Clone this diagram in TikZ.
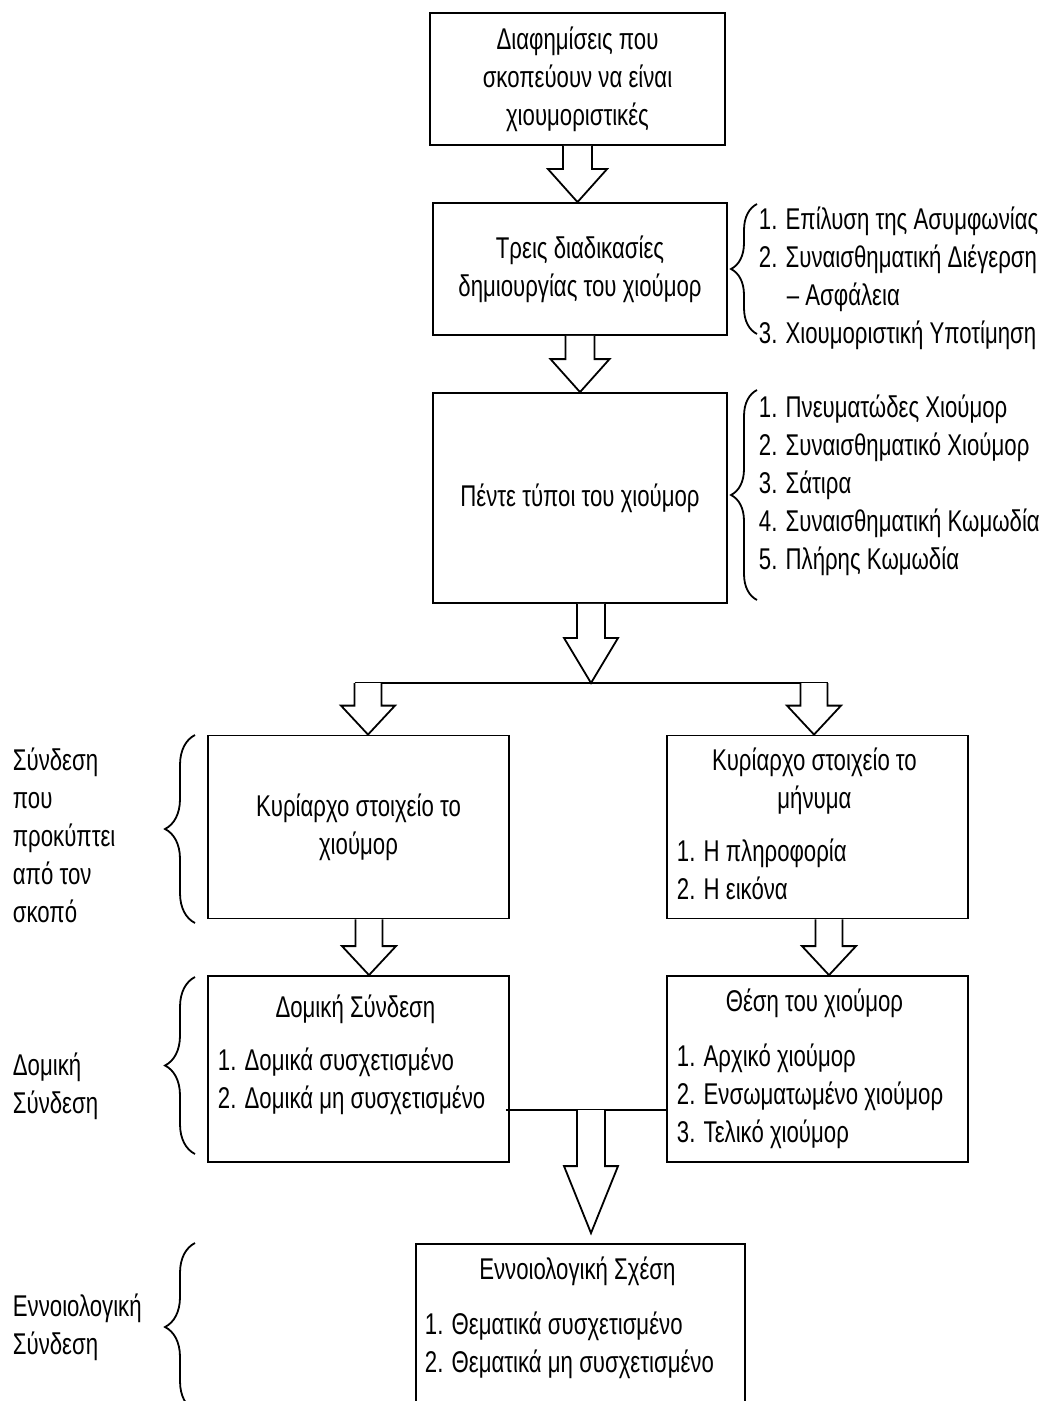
\documentclass[tikz,border=0pt]{standalone}
\usepackage{fontspec}
\setmainfont{Liberation Sans}[FakeStretch=0.74]
\usetikzlibrary{calc,positioning,decorations.pathreplacing}

% hollow block arrow: start, tip, half shaft, half head, head length
\newcommand{\blockarrow}[5]{%
  \draw [fatarrow] let \p1=(#1), \p2=(#2) in
    (\x1-#3,\y1) -- (\x1-#3,\y2+#5) -- (\x1-#4,\y2+#5) -- (\x1,\y2)
    -- (\x1+#4,\y2+#5) -- (\x1+#3,\y2+#5) -- (\x1+#3,\y1);}
\newcommand{\boxtitle}[1]{\multicolumn{1}{@{}c@{}}{#1}}

\begin{document}
\begin{tikzpicture}[
    x=0.5pt, y=-0.5pt,
    font=\fontsize{15}{19}\selectfont,
    line width=0.9pt,
    block/.style={
        rectangle,
        draw=black,
        fill=white,
        inner sep=0pt,
        align=center
    },
    items/.style={
        inner sep=0pt,
        anchor=west,
        align=left
    },
    fatarrow/.style={
        draw=black,
        fill=white,
        line join=miter
    },
    curly/.style={
        decorate,
        decoration={brace, amplitude=#1}
    }
  ]
  \useasboundingbox (0,0) rectangle (1052,1401);

    % We start by placing the blocks
  \node [block, minimum width=147.5pt, minimum height=66pt] (ads) at (577.5,79)
    {Διαφημίσεις που\\σκοπεύουν να είναι\\χιουμοριστικές};

  \node [block, minimum width=147pt, minimum height=66pt] (process) at (580,269)
    {Τρεις διαδικασίες\\δημιουργίας του χιούμορ};

  \node [block, minimum width=147pt, minimum height=105pt] (types) at (580,498)
    {Πέντε τύποι του χιούμορ};

  \node [block, minimum width=150.5pt, minimum height=91.5pt] (humour) at (358.5,827)
    {Κυρίαρχο στοιχείο το\\χιούμορ};

  \node [block, minimum width=150.5pt, minimum height=91.5pt] (message) at (817.5,827)
 {%
 \begin{tabular}{@{}p{137.5pt}@{}}
  \boxtitle{Κυρίαρχο στοιχείο το}\\
  \boxtitle{μήνυμα}\\[7.5pt]
  1. Η πληροφορία\\
  2. Η εικόνα
 \end{tabular}
 };

  \node [block, minimum width=150.5pt, minimum height=93pt] (structural) at (358.5,1069)
 {%
 \begin{tabular}{@{}p{137.5pt}@{}}
  \boxtitle{Δομική Σύνδεση}\\[7.5pt]
  1. Δομικά συσχετισμένο\\
  2. Δομικά μη συσχετισμένο\\[14pt]
 \end{tabular}
 };

  \node [block, minimum width=150.5pt, minimum height=93pt] (position) at (817.5,1069)
 {%
 \begin{tabular}{@{}p{137.5pt}@{}}
  \boxtitle{Θέση του χιούμορ}\\[8.5pt]
  1. Αρχικό χιούμορ\\
  2. Ενσωματωμένο χιούμορ\\
  3. Τελικό χιούμορ
 \end{tabular}
 };

  \node [block, minimum width=164.5pt, minimum height=90pt] (concept) at (580.5,1334)
 {%
 \begin{tabular}{@{}p{152.5pt}@{}}
  \boxtitle{Εννοιολογική Σχέση}\\[8.5pt]
  1. Θεματικά συσχετισμένο\\
  2. Θεματικά μη συσχετισμένο\\[16pt]
 \end{tabular}
 };

    % the lists beside the braces
  \node [items] (processlist) at (758,279)
 {%
 \begin{tabular}{@{}l@{}}
  1. Επίλυση της Ασυμφωνίας\\
  2. Συναισθηματική Διέγερση\\
  \hspace*{14pt}– Ασφάλεια\\
  3. Χιουμοριστική Υποτίμηση
 \end{tabular}
 };

  \node [items] (typelist) at (758,486)
 {%
 \begin{tabular}{@{}l@{}}
  1. Πνευματώδες Χιούμορ\\
  2. Συναισθηματικό Χιούμορ\\
  3. Σάτιρα\\
  4. Συναισθηματική Κωμωδία\\
  5. Πλήρης Κωμωδία
 \end{tabular}
 };

    % labels on the left
  \node [items] (purposelabel) at (12,839)
 {%
 \begin{tabular}{@{}l@{}}
  Σύνδεση\\ που\\ προκύπτει\\ από τον\\ σκοπό
 \end{tabular}
 };

  \node [items] (structlabel) at (12,1087)
 {%
 \begin{tabular}{@{}l@{}}
  Δομική\\ Σύνδεση
 \end{tabular}
 };

  \node [items] (conceptlabel) at (12,1328)
 {%
 \begin{tabular}{@{}l@{}}
  Εννοιολογική\\ Σύνδεση
 \end{tabular}
 };

    % braces
  \draw [curly=13pt] (757,334) -- (757,204);
  \draw [curly=13pt] (757,600) -- (757,390);
  \draw [curly=15pt] (195,923) -- (195,735);
  \draw [curly=15pt] (195,1154) -- (195,977);
  \draw [curly=15pt] (195,1411) -- (195,1243);

    % branching points
  \coordinate (split) at (591,683);
  \coordinate (branchL) at (368,683);
  \coordinate (branchR) at (814,683);
  \coordinate (humourout) at ([xshift=5.25pt]humour.south);
  \coordinate (messageout) at ([xshift=5.75pt]message.south);
  \coordinate (merge) at (591,1110);

    % arrows
  \blockarrow{ads.south}{process.north}{7.25pt}{14.75pt}{16.5pt}
  \blockarrow{process.south}{types.north}{7.25pt}{14.75pt}{16.5pt}
  \blockarrow{split |- types.south}{split}{7pt}{13.5pt}{22.5pt}

  \draw ([xshift=-6.75pt]branchL) -- ([xshift=6.75pt]branchR);
  \blockarrow{branchL}{branchL |- humour.north}{6.75pt}{13.5pt}{14.5pt}
  \blockarrow{branchR}{branchR |- message.north}{6.75pt}{13.5pt}{14.5pt}

  \blockarrow{humourout}{humourout |- structural.north}{6.75pt}{13.5pt}{14.5pt}
  \blockarrow{messageout}{messageout |- position.north}{6.75pt}{13.5pt}{14.5pt}

  \draw ([xshift=-2pt]structural.east |- merge) -- (position.west |- merge);
  \blockarrow{merge}{[yshift=5pt]merge |- concept.north}{7pt}{13.5pt}{33.5pt}

\end{tikzpicture}
\end{document}
